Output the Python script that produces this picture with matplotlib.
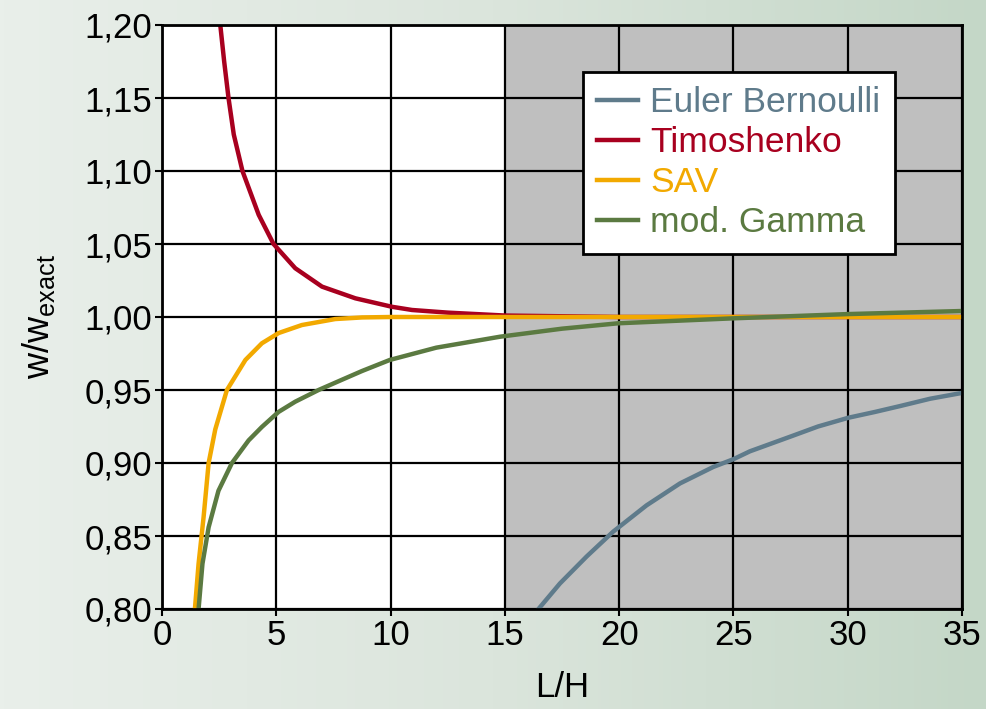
import numpy as np
import matplotlib
matplotlib.use("Agg")
import matplotlib.pyplot as plt
from matplotlib.colors import LinearSegmentedColormap

plt.rcParams['font.family'] = ['Liberation Sans', 'DejaVu Sans']
plt.rcParams['mathtext.fontset'] = 'custom'
plt.rcParams['mathtext.rm'] = 'Liberation Sans'
plt.rcParams['mathtext.it'] = 'Liberation Sans'

# Werte
euler_x = [16.47, 17.41, 18.58, 19.74, 21.2, 22.66, 24.12, 25.0, 25.72, 27.48, 28.7, 30.03, 31.2, 32.29, 33.6, 35.0]
euler_y = [0.800, 0.8175, 0.836, 0.853, 0.871, 0.886, 0.8973, 0.9026, 0.908, 0.918, 0.925, 0.931, 0.935, 0.939, 0.944, 0.948]

timo_x = [2.55, 2.72, 2.91, 3.14, 3.52, 4.23, 4.88, 5.83, 7.0, 8.46, 10.06, 10.94, 12.5, 15.0, 17.5, 20, 25, 30, 35]
timo_y = [1.200, 1.175, 1.150, 1.125, 1.100, 1.070, 1.050, 1.0334, 1.0208, 1.0128, 1.007, 1.0048, 1.003, 1.001, 1.0005, 1.000, 1.000, 1.000, 1.000]

sav_x = [1.44, 1.60, 1.82, 2.04, 2.33, 2.84, 3.65, 4.37, 5.1, 6.12, 7.58, 8.75, 10.0, 15, 20, 25, 30, 35]
sav_y = [0.800, 0.831, 0.863, 0.900, 0.923, 0.950, 0.9706, 0.982, 0.989, 0.9945, 0.9986, 0.9997, 1.000, 1.000, 1.000, 1.000, 1.000, 1.000]

gamma_x = [1.60, 1.77, 2.04, 2.47, 3.06, 3.79, 4.37, 5.1, 5.83, 6.85, 7.87, 8.75, 9.97, 12.0, 14.79, 17.5, 19.96, 25.0, 30.0, 35.0]
gamma_y = [0.800, 0.831, 0.856, 0.881, 0.900, 0.9155, 0.9247, 0.935, 0.942, 0.950, 0.957, 0.963, 0.9706, 0.979, 0.9865, 0.992, 0.9957, 0.9991, 1.002, 1.0041]

x_ticks = [0, 5, 10, 15, 20, 25, 30, 35]
y_ticks = [0.80, 0.85, 0.90, 0.95, 1.00, 1.05, 1.10, 1.15, 1.20]

fig = plt.figure(figsize=(9.87, 7.09), dpi=100)

# Hintergrund mit Farbverlauf
bg = fig.add_axes([0, 0, 1, 1], zorder=-10)
cmap = LinearSegmentedColormap.from_list("bg", ["#e9efea", "#dbe5dc", "#c4d7c7"])
grad = np.linspace(0, 1, 256).reshape(1, -1)
bg.imshow(grad, aspect='auto', cmap=cmap, extent=[0, 1, 0, 1])
bg.axis("off")

ax = fig.add_axes([162/987, 1 - 609/709, 800/987, 584/709])
ax.set_facecolor("white")
ax.axvspan(15, 35, color="#bfbfbf", zorder=0)

kw = dict(lw=3.2, zorder=3, solid_joinstyle="round")
ax.plot(euler_x, euler_y, color="#5f7b8b", label="Euler Bernoulli", **kw)
ax.plot(timo_x, timo_y, color="#a8001f", label="Timoshenko", **kw)
ax.plot(sav_x, sav_y, color="#f2a900", label="SAV", **kw)
ax.plot(gamma_x, gamma_y, color="#5b7a41", label="mod. Gamma", **kw)

ax.set_xlim(0, 35)
ax.set_ylim(0.80, 1.20)
ax.set_xticks(x_ticks)
ax.set_yticks(y_ticks)
ax.set_yticklabels([f"{v:.2f}".replace(".", ",") for v in y_ticks])
ax.tick_params(labelsize=25, width=1.5, length=5, pad=2)
ax.grid(True, color="black", lw=1.6, zorder=1)
ax.set_axisbelow(False)
for s in ax.spines.values():
    s.set_linewidth(2)
    s.set_zorder(4)

ax.set_xlabel("L/H", fontsize=25, labelpad=14)
ax.set_ylabel(r"w/w$_{\mathrm{exact}}$", fontsize=26, labelpad=20)

leg = ax.legend(loc="upper left", bbox_to_anchor=(583/987, 1 - 72/709),
                bbox_transform=fig.transFigure, fontsize=25.5, frameon=True,
                fancybox=False, framealpha=1, handlelength=1.15, handletextpad=0.35,
                labelspacing=0.2, borderpad=0.4, borderaxespad=0)
leg.get_frame().set_edgecolor("black")
leg.get_frame().set_linewidth(2)
leg.set_zorder(5)
for txt, line in zip(leg.get_texts(), leg.get_lines()):
    txt.set_color(line.get_color())

fig.savefig("out.png", dpi=100)
